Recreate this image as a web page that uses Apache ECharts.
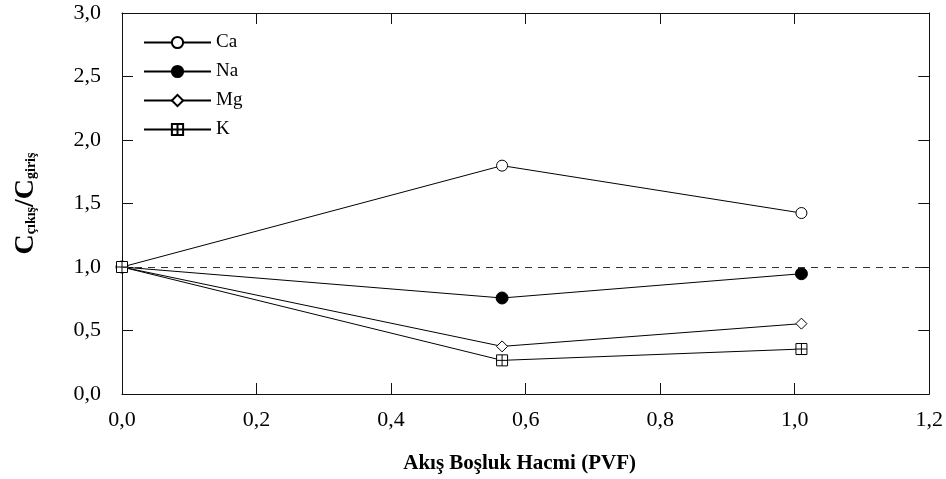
<!DOCTYPE html>
<html>
<head>
<meta charset="utf-8">
<script src="https://cdn.jsdelivr.net/npm/echarts@6/dist/echarts.min.js"></script>
<style>
  html, body { margin: 0; padding: 0; background: #fff; }
  #chart { width: 946px; height: 479px; }
</style>
</head>
<body>
<div id="chart"></div>
<script>
// PVF values (x) and C_out/C_in ratios per ion
const pvf = [0, 0.565, 1.01]
const ca = [1.0, 1.798, 1.425]
const na = [1.0, 0.756, 0.947]
const mg = [1.0, 0.375, 0.554]
const k = [1.0, 0.265, 0.354]
const names = ['Ca', 'Na', 'Mg', 'K']

const font = 'Liberation Serif'
const comma = v => v.toFixed(1).replace('.', ',')
const pairs = ys => pvf.map((x, i) => [x, ys[i]])
const squareCross = 'path://M0,0L10,0L10,10L0,10ZM5,0L5,10M0,5L10,5'

function lineSeries(name, ys, symbol, fill, size) {
  return {
    name,
    type: 'line',
    data: pairs(ys),
    symbol,
    symbolSize: size,
    showAllSymbol: true,
    lineStyle: { color: '#000', width: 1 },
    itemStyle: { color: fill, borderColor: '#000', borderWidth: 1 },
    emphasis: { disabled: true },
  }
}

function axis(extra) {
  return {
    type: 'value',
    axisLine: { show: true, onZero: false, lineStyle: { color: '#111', width: 1 } },
    axisTick: { show: true, inside: true, length: 11, lineStyle: { color: '#111' } },
    splitLine: { show: false },
    ...extra,
  }
}

const chart = echarts.init(document.getElementById('chart'))
const series = [
  lineSeries('Ca', ca, 'circle', '#fff', 11),
  lineSeries('Na', na, 'circle', '#000', 12),
  lineSeries('Mg', mg, 'diamond', '#fff', 11),
  lineSeries('K', k, squareCross, '#fff', 11),
]
series[0].markLine = {
  silent: true,
  symbol: ['none', 'none'],
  label: { show: false },
  lineStyle: { color: '#333', width: 1, type: [7, 6] },
  data: [{ yAxis: 1 }],
}

chart.setOption({
  animation: false,
  grid: { left: 122, right: 12, top: 13, bottom: 85 },
  legend: {
    data: names,
    orient: 'vertical',
    left: 143,
    top: 33,
    padding: 0,
    itemWidth: 67,
    itemHeight: 14,
    itemGap: 10,
    textStyle: { fontFamily: font, fontSize: 19, color: '#000', lineHeight: 17 },
  },
  xAxis: [
    axis({
      min: 0,
      max: 1.2,
      interval: 0.2,
      axisLabel: { fontFamily: font, fontSize: 22, color: '#000', margin: 15, formatter: comma },
      name: 'Akış Boşluk Hacmi (PVF)',
      nameLocation: 'middle',
      nameGap: 59,
      nameTextStyle: { fontFamily: font, fontSize: 21, fontWeight: 'bold', color: '#000', padding: [0, 12, 0, 0] },
    }),
    axis({
      position: 'top',
      min: 0,
      max: 1.2,
      interval: 0.2,
      axisLabel: { show: false },
    }),
  ],
  yAxis: [
    axis({
      min: 0,
      max: 3,
      interval: 0.5,
      axisLabel: { fontFamily: font, fontSize: 22, color: '#000', margin: 21, formatter: comma },
      name: '{c|C}{s|çıkış}{c|/C}{s|giriş}',
      nameLocation: 'middle',
      nameRotate: 90,
      nameGap: 84,
      nameTextStyle: {
        rich: {
          c: { fontFamily: font, fontSize: 28, fontWeight: 'bold', color: '#000', lineHeight: 26, verticalAlign: 'top', padding: [0, 0, 17, 0] },
          s: { fontFamily: font, fontSize: 14, fontWeight: 'bold', color: '#000', lineHeight: 14, verticalAlign: 'bottom' },
        },
      },
    }),
    axis({
      position: 'right',
      min: 0,
      max: 3,
      interval: 0.5,
      axisLabel: { show: false },
    }),
  ],
  series,
})
</script>
</body>
</html>
